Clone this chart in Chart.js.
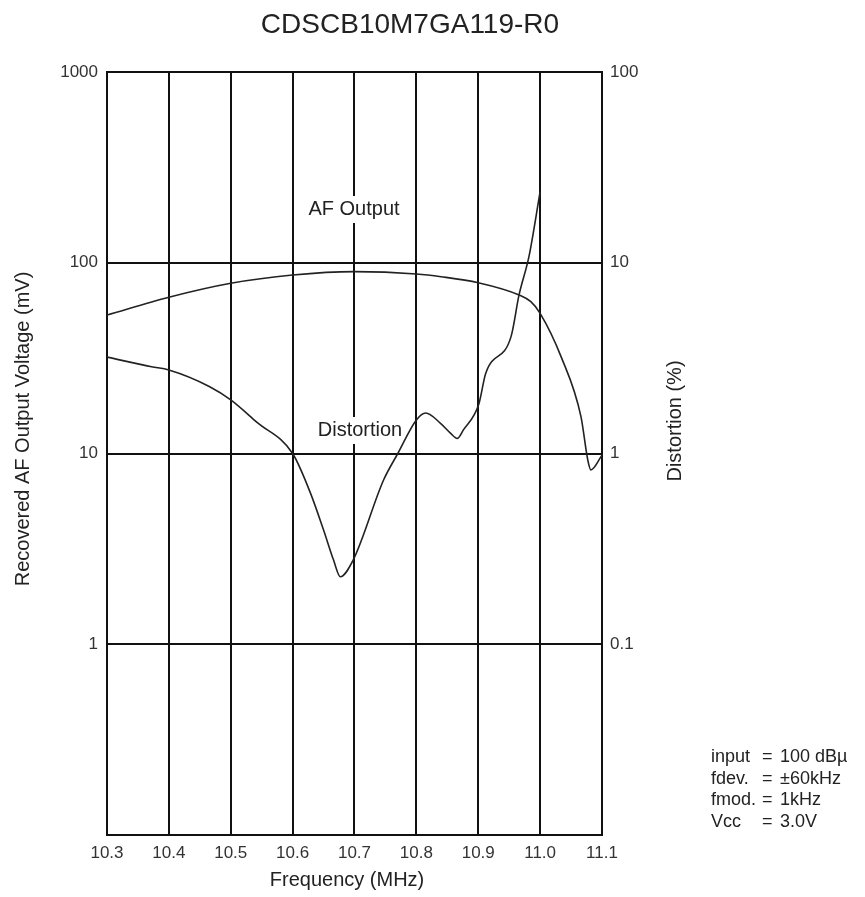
<!DOCTYPE html>
<html>
<head>
<meta charset="utf-8">
<script src="https://cdn.jsdelivr.net/npm/chart.js@4/dist/chart.umd.min.js"></script>
<style>
html,body{margin:0;padding:0;background:#fff;}
#wrap{width:865px;height:897px;}
</style>
</head>
<body>
<div id="wrap"><canvas id="c" width="865" height="897"></canvas></div>
<script>
// ---- data ----
const chartTitle = "CDSCB10M7GA119-R0";
const xTicks = [10.3, 10.4, 10.5, 10.6, 10.7, 10.8, 10.9, 11.0, 11.1];
const leftTicks = [0.1, 1, 10, 100, 1000];
const rightTicks = [0.01, 0.1, 1, 10, 100];

const afFreq = [10.30, 10.40, 10.50, 10.60, 10.70, 10.80, 10.84, 10.90, 10.966, 10.985, 11.00, 11.034, 11.066, 11.077, 11.082, 11.10];
const afMv   = [53.2, 65.9, 78.0, 86.2, 89.8, 87.3, 84.5, 78.6, 67.8, 62.5, 54.3, 32.1, 15.6, 9.25, 8.2, 9.8];

const distFreq = [10.300, 10.372, 10.400, 10.466, 10.500, 10.542, 10.600, 10.629, 10.650, 10.666, 10.677, 10.698, 10.747, 10.770, 10.800, 10.815, 10.839, 10.855, 10.866, 10.876, 10.901, 10.912, 10.953, 10.966, 10.982, 11.000];
const distPct  = [3.2, 2.85, 2.74, 2.24, 1.91, 1.46, 1.0, 0.618, 0.397, 0.277, 0.226, 0.277, 0.726, 1.0, 1.50, 1.63, 1.44, 1.28, 1.20, 1.33, 1.82, 2.63, 4.1, 6.8, 10.8, 23.6];

const conditionLabels = ["input", "fdev.", "fmod.", "Vcc"];
const conditionValues = ["100 dBµ", "±60kHz", "1kHz", "3.0V"];

const FONT = "'Liberation Sans', Arial, Helvetica, sans-serif";
const INK = "#222";

const afPoints = afFreq.map((f, i) => ({x: f, y: afMv[i]}));
const distPoints = distFreq.map((f, i) => ({x: f, y: distPct[i]}));

const textPlugin = {
  id: 'texts',
  beforeDatasetsDraw(chart) {
    const ctx = chart.ctx;
    ctx.save();
    ctx.fillStyle = '#fff';
    ctx.font = "20px " + FONT;
    const lab = [["AF Output", 354, 209], ["Distortion", 360, 430]];
    lab.forEach(l => {
      const w = ctx.measureText(l[0]).width;
      ctx.fillRect(l[1] - w/2 - 3, l[2] - 13, w + 6, 27);
    });
    ctx.restore();
  },
  afterDraw(chart) {
    const ctx = chart.ctx;
    ctx.save();
    ctx.fillStyle = INK;
    ctx.textAlign = 'center';
    ctx.textBaseline = 'middle';
    ctx.font = "28px " + FONT;
    ctx.fillText(chartTitle, 410, 25);
    ctx.font = "20px " + FONT;
    ctx.fillText("AF Output", 354, 209);
    ctx.fillText("Distortion", 360, 430);
    ctx.fillText("Frequency (MHz)", 347, 880);
    ctx.save();
    ctx.translate(23, 429);
    ctx.rotate(-Math.PI/2);
    ctx.fillText("Recovered AF Output Voltage (mV)", 0, 0);
    ctx.restore();
    ctx.save();
    ctx.translate(675, 421);
    ctx.rotate(-Math.PI/2);
    ctx.fillText("Distortion (%)", 0, 0);
    ctx.restore();
    // test conditions
    ctx.textAlign = 'left';
    ctx.font = "18px " + FONT;
    conditionLabels.forEach((t, i) => {
      const y = 757 + i * 21.7;
      ctx.fillText(t, 711, y);
      ctx.fillText("=", 762, y);
      ctx.fillText(conditionValues[i], 780, y);
    });
    ctx.restore();
  }
};

new Chart(document.getElementById('c'), {
  type: 'line',
  data: {
    datasets: [
      { label: 'AF Output', data: afPoints, yAxisID: 'y', borderColor: INK, borderWidth: 1.6, pointRadius: 0, fill: false, cubicInterpolationMode: 'monotone' },
      { label: 'Distortion', data: distPoints, yAxisID: 'y2', borderColor: INK, borderWidth: 1.6, pointRadius: 0, fill: false, cubicInterpolationMode: 'monotone' }
    ]
  },
  options: {
    responsive: false,
    animation: false,
    layout: { padding: { top: 72, left: 0, right: 0, bottom: 0 } },
    plugins: { legend: { display: false }, tooltip: { enabled: false }, title: { display: false } },
    scales: {
      x: {
        type: 'linear', min: 10.3, max: 11.1,
        afterBuildTicks: s => { s.ticks = xTicks.map(v => ({value: v})); },
        afterFit: s => { s.height = 62; },
        ticks: { callback: v => Number(v).toFixed(1), font: { family: FONT, size: 17 }, color: '#333', padding: 8, maxRotation: 0, autoSkip: false },
        grid: { color: '#111', lineWidth: 2, drawTicks: false },
        border: { color: '#111', width: 2 }
      },
      y: {
        type: 'logarithmic', position: 'left', min: 0.1, max: 1000,
        afterBuildTicks: s => { s.ticks = leftTicks.map(v => ({value: v})); },
        afterFit: s => { s.width = 107; },
        ticks: { callback: v => (v === 0.1 ? '' : String(v)), font: { family: FONT, size: 17 }, color: '#333', padding: 9, autoSkip: false },
        grid: { color: '#111', lineWidth: 2, drawTicks: false },
        border: { color: '#111', width: 2 }
      },
      y2: {
        type: 'logarithmic', position: 'right', min: 0.01, max: 100,
        afterBuildTicks: s => { s.ticks = rightTicks.map(v => ({value: v})); },
        afterFit: s => { s.width = 263; },
        ticks: { callback: v => (v === 0.01 ? '' : String(v)), font: { family: FONT, size: 17 }, color: '#333', padding: 8, autoSkip: false },
        grid: { drawOnChartArea: false, drawTicks: false },
        border: { color: '#111', width: 2 }
      }
    }
  },
  plugins: [textPlugin]
});
</script>
</body>
</html>
